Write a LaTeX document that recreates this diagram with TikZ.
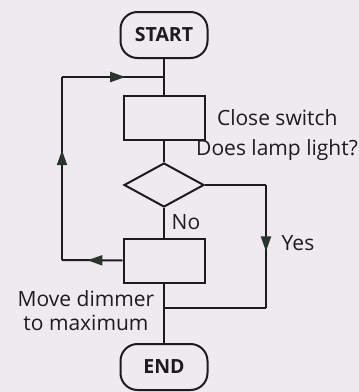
\documentclass[tikz,border=0pt]{standalone}
\usepackage{fontspec}
\setmainfont{Open Sans}
\usetikzlibrary{arrows.meta,shapes.geometric,decorations.markings}
\definecolor{paper}{RGB}{238,234,240}
\definecolor{ink}{RGB}{28,28,28}
\definecolor{tip}{RGB}{40,52,44}
\begin{document}
\begin{tikzpicture}[x=1pt,y=-1pt,line width=2pt,draw=ink,
  every node/.style={font=\fontsize{21}{23}\selectfont,inner sep=0pt,text=ink},
  term/.style={draw,rounded corners=17pt,minimum width=87pt,minimum height=46pt,font=\fontsize{19.5}{22}\selectfont\bfseries},
  act/.style={draw,minimum width=81pt,minimum height=44pt},
  test/.style={draw,diamond,minimum width=80pt,minimum height=44pt},
  midarrow/.style={postaction={decorate},decoration={markings,
    mark=at position #1 with {\arrow[tip]{Triangle[length=15pt,width=10pt]}}}}]
\fill[paper] (0,0) rectangle (359,392);
\useasboundingbox (0,0) rectangle (359,392);
\coordinate (top) at (164,77);
\coordinate (tl) at (62,77);
\coordinate (bl) at (62,260);
\coordinate (r1) at (266,185);
\coordinate (r2) at (266,308);
\coordinate (bot) at (164,308);
\node[term] (start) at (164,35) {START};
\node[act] (close) at (164,118) {};
\node[test] (lamp) at (164,185) {};
\node[act] (dim) at (164,260.5) {};
\node[term] (end) at (164,367) {END};
\draw (start) -- (close);
\draw (close) -- (lamp);
\draw (lamp) -- (dim);
\draw (dim) -- (end);
\draw[midarrow=0.58] (dim.west) -- (bl);
\draw[midarrow=0.6] (bl) -- (tl);
\draw[midarrow=0.62] (tl) -- (top);
\draw (lamp.east) -- (r1);
\draw[midarrow=0.54] (r1) -- (r2);
\draw (r2) -- (bot);
\node[anchor=west] (closetxt) at (216,118) {Close switch};
\node (lamptxt) at (277,150) {Does lamp light?};
\node (no) at (186,222) {No};
\node (yes) at (298,243) {Yes};
\node[align=center,font=\fontsize{21}{24}\selectfont] (dimtxt) at (86,311) {Move dimmer\\to maximum};
\end{tikzpicture}
\end{document}
